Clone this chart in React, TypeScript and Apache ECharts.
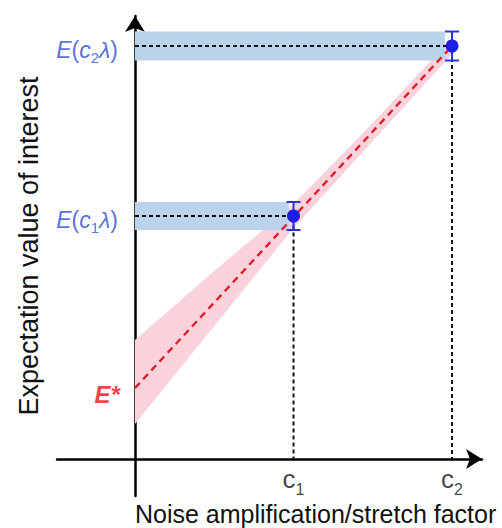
import React, { useEffect, useRef } from 'react';
import * as echarts from 'echarts';

// noise stretch factors c1, c2 (x) and measured expectation values (y)
const stretchFactors = [1, 2];
const subscripts = ['1', '2'];
const measured = [2.43, 4.13];
const errHalf = [0.14, 0.145];
const bandEnd = [0.97, 1.955];
// zero-noise extrapolated value E*
const zeroNoise = 0.71;
const fitLineX = [0, 2];
const fitLineY = [0.71, 4.13];
// extrapolation confidence band
const ciX = [0, 0.5, 1, 1.5, 2];
const ciUpper = [1.19, 1.88, 2.55, 3.36, 4.21];
const ciLower = [0.35, 1.33, 2.31, 3.18, 4.05];

const FONT = '"Liberation Sans", Arial, Helvetica, sans-serif';
const BLUE_TXT = '#2c4bd2';

export default function App() {
  const ref = useRef<HTMLDivElement>(null);
  useEffect(() => {
    document.body.style.margin = '0';
    if (!ref.current) return;
    const chart = echarts.init(ref.current, undefined, { renderer: 'svg' });
    const axisCommon = {
      type: 'value' as const,
      axisTick: { show: false },
      axisLabel: { show: false },
      splitLine: { show: false },
      axisLine: {
        show: true,
        onZero: true,
        symbol: ['none', 'arrow'],
        symbolSize: [15, 16],
        lineStyle: { color: '#000', width: 2.5 },
      },
    };
    const guideSeries = stretchFactors.map((c, i) => ({
      type: 'line',
      data: [[0, measured[i]], [c, measured[i]], [c, 0]],
      symbol: 'none',
      silent: true,
      z: 4,
      lineStyle: { color: '#111', width: 2, type: [4, 3] },
    }));
    chart.setOption({
      animation: false,
      grid: { left: 57, right: 20, top: 16, bottom: 32, containLabel: false },
      xAxis: { ...axisCommon, min: -0.492, max: 2.189 },
      yAxis: { ...axisCommon, min: -0.37, max: 4.43 },
      graphic: [
        {
          type: 'text',
          x: 29,
          y: 246,
          rotation: Math.PI / 2,
          style: {
            text: 'Expectation value of interest',
            fontSize: 27,
            fontFamily: FONT,
            fill: '#111',
            align: 'center',
            verticalAlign: 'middle',
          },
        },
        {
          type: 'text',
          x: 135,
          y: 514,
          style: {
            text: 'Noise amplification/stretch factor',
            fontSize: 25,
            fontFamily: FONT,
            fill: '#111',
            align: 'left',
            verticalAlign: 'middle',
          },
        },
      ],
      series: [
        {
          type: 'custom',
          silent: true,
          z: 1,
          data: [[0, 0]],
          renderItem: (_p: any, api: any) => {
            const pts: number[][] = [];
            ciX.forEach((x, i) => pts.push(api.coord([x, ciUpper[i]])));
            for (let i = ciX.length - 1; i >= 0; i--) pts.push(api.coord([ciX[i], ciLower[i]]));
            return { type: 'polygon', shape: { points: pts }, style: { fill: '#f9d2db' } };
          },
        },
        {
          type: 'custom',
          silent: true,
          z: 2,
          data: stretchFactors.map((c, i) => [bandEnd[i], measured[i], errHalf[i]]),
          renderItem: (_p: any, api: any) => {
            const end = api.value(0);
            const e = api.value(1);
            const h = api.value(2);
            const p1 = api.coord([0, e + h]);
            const p2 = api.coord([end, e - h]);
            return {
              type: 'rect',
              shape: { x: p1[0], y: p1[1], width: p2[0] - p1[0], height: p2[1] - p1[1] },
              style: { fill: '#bad2ea' },
            };
          },
        },
        ...guideSeries,
        {
          type: 'line',
          data: fitLineX.map((x, i) => [x, fitLineY[i]]),
          symbol: 'none',
          silent: true,
          z: 5,
          lineStyle: { color: '#e31e28', width: 2.4, type: [7, 5] },
        },
        {
          type: 'custom',
          silent: true,
          z: 6,
          data: stretchFactors.map((c, i) => [c, measured[i], errHalf[i]]),
          renderItem: (_p: any, api: any) => {
            const c = api.value(0);
            const e = api.value(1);
            const h = api.value(2);
            const top = api.coord([c, e + h]);
            const bot = api.coord([c, e - h]);
            const st = { stroke: '#2436d8', lineWidth: 2 };
            return {
              type: 'group',
              children: [
                { type: 'line', shape: { x1: top[0], y1: top[1], x2: bot[0], y2: bot[1] }, style: st },
                { type: 'line', shape: { x1: top[0] - 7, y1: top[1], x2: top[0] + 7, y2: top[1] }, style: st },
                { type: 'line', shape: { x1: bot[0] - 7, y1: bot[1], x2: bot[0] + 7, y2: bot[1] }, style: st },
              ],
            };
          },
        },
        {
          type: 'scatter',
          z: 7,
          silent: true,
          symbolSize: 13,
          itemStyle: { color: '#1e1ee6', opacity: 1 },
          data: stretchFactors.map((c, i) => [c, measured[i]]),
        },
        // c1, c2 labels
        {
          type: 'scatter',
          z: 8,
          silent: true,
          symbolSize: 0.1,
          itemStyle: { color: 'rgba(0,0,0,0)' },
          data: stretchFactors.map((c) => [c, 0]),
          label: {
            show: true,
            position: 'bottom',
            distance: 2,
            formatter: (p: any) => `{c|c}{s|${subscripts[p.dataIndex]}}`,
            rich: {
              c: { fontSize: 26, lineHeight: 36, fontFamily: FONT, color: '#111' },
              s: { fontSize: 16, lineHeight: 14, verticalAlign: 'bottom', fontFamily: FONT, color: '#111' },
            },
          },
        },
        // E(c λ) labels
        {
          type: 'scatter',
          z: 8,
          silent: true,
          symbolSize: 0.1,
          itemStyle: { color: 'rgba(0,0,0,0)' },
          data: measured.map((e) => [0, e]),
          label: {
            show: true,
            position: 'left',
            distance: 17,
            offset: [0, 4],
            formatter: (p: any) => `{i|E}{n|(}{i|c}{s|${subscripts[p.dataIndex]}}{i|λ}{n|)}`,
            rich: {
              i: { fontSize: 23, lineHeight: 30, fontStyle: 'italic', fontFamily: FONT, color: BLUE_TXT },
              n: { fontSize: 23, lineHeight: 30, fontFamily: FONT, color: BLUE_TXT },
              s: { fontSize: 15, lineHeight: 14, verticalAlign: 'bottom', fontFamily: FONT, color: BLUE_TXT },
            },
          },
        },
        // E* label
        {
          type: 'scatter',
          z: 8,
          silent: true,
          symbolSize: 0.1,
          itemStyle: { color: 'rgba(0,0,0,0)' },
          data: [[0, zeroNoise]],
          label: {
            show: true,
            position: 'left',
            distance: 15,
            offset: [0, 6],
            formatter: () => 'E*',
            fontSize: 24,
            fontWeight: 'bold',
            fontStyle: 'italic',
            fontFamily: FONT,
            color: '#e8101a',
          },
        },
      ],
    });
    return () => chart.dispose();
  }, []);
  return <div ref={ref} style={{ width: 502, height: 528 }} />;
}
